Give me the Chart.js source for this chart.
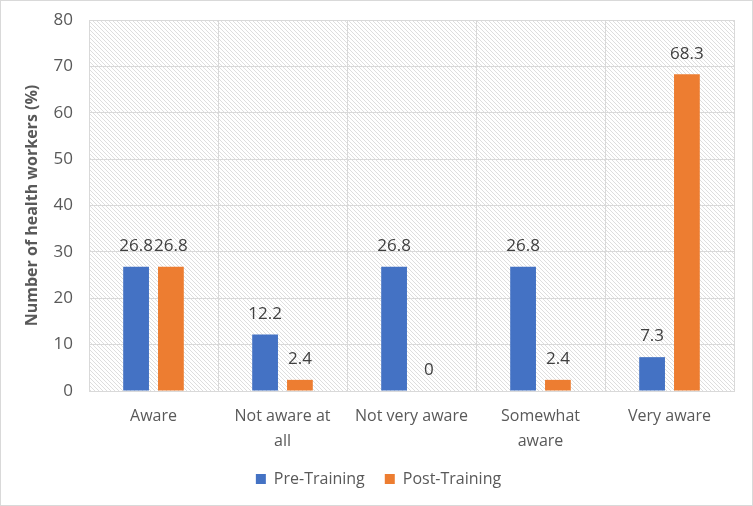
<!DOCTYPE html>
<html>
<head>
<meta charset="utf-8">
<script src="https://cdn.jsdelivr.net/npm/chart.js@4"></script>
<style>
  html, body { margin: 0; padding: 0; background: #fff; }
  #wrap { width: 753px; height: 506px; position: relative; box-sizing: border-box; border: 1px solid #d9d9d9; }
</style>
</head>
<body>
<div id="wrap"><canvas id="chart" width="751" height="504"></canvas></div>
<script>
  const categories = [["Aware"], ["Not aware at", "all"], ["Not very aware"], ["Somewhat", "aware"], ["Very aware"]];
  const preTraining = [26.8, 12.2, 26.8, 26.8, 7.3];
  const postTraining = [26.8, 2.4, 0, 2.4, 68.3];
  const yTicks = [0, 10, 20, 30, 40, 50, 60, 70, 80];

  const FONT = "'Open Sans', sans-serif";
  const TEXT = "#595959";

  // diagonal hatch behind the plot, like the excel pattern fill
  function makeHatch(ctx) {
    const c = document.createElement("canvas");
    c.width = 4; c.height = 4;
    const p = c.getContext("2d");
    p.fillStyle = "#fff";
    p.fillRect(0, 0, 4, 4);
    p.strokeStyle = "#dedede";
    p.lineWidth = 1;
    p.beginPath();
    p.moveTo(-1, -1); p.lineTo(5, 5);
    p.moveTo(-1, 3); p.lineTo(1, 5);
    p.moveTo(3, -1); p.lineTo(5, 1);
    p.stroke();
    return ctx.createPattern(c, "repeat");
  }

  const hatchPlugin = {
    id: "hatch",
    beforeDraw(chart) {
      const { ctx, chartArea: a } = chart;
      ctx.save();
      ctx.fillStyle = makeHatch(ctx);
      ctx.fillRect(a.left, a.top, a.right - a.left, a.bottom - a.top);
      ctx.restore();
    }
  };

  const valueLabels = {
    id: "valueLabels",
    afterDatasetsDraw(chart) {
      const { ctx } = chart;
      ctx.save();
      ctx.font = "17px " + FONT;
      ctx.fillStyle = "#404040";
      ctx.textAlign = "center";
      ctx.textBaseline = "bottom";
      chart.data.datasets.forEach((ds, i) => {
        chart.getDatasetMeta(i).data.forEach((bar, j) => {
          ctx.fillText(String(ds.data[j]), bar.x, bar.y - 12);
        });
      });
      ctx.restore();
    }
  };

  new Chart(document.getElementById("chart"), {
    type: "bar",
    data: {
      labels: categories,
      datasets: [
        { label: "Pre-Training", data: preTraining, backgroundColor: "#4472C4" },
        { label: "Post-Training", data: postTraining, backgroundColor: "#ED7D31" }
      ]
    },
    options: {
      responsive: false,
      animation: false,
      layout: { padding: { top: 19, right: 18, left: 22, bottom: 8 } },
      datasets: { bar: { categoryPercentage: 0.54, barPercentage: 0.74 } },
      scales: {
        x: {
          afterFit: s => { s.height = 60; },
          grid: { color: "#d9d9d9", offset: true, drawTicks: false },
          border: { color: "#d9d9d9" },
          ticks: { color: TEXT, font: { family: FONT, size: 16, lineHeight: 1.55 }, padding: 13, maxRotation: 0, autoSkip: false }
        },
        y: {
          min: 0, max: 80,
          afterBuildTicks: s => { s.ticks = yTicks.map(v => ({ value: v })); },
          afterFit: s => { s.width = 66; s.paddingTop = 0; s.paddingBottom = 0; },
          grid: { color: "#d9d9d9", drawTicks: false },
          border: { display: false },
          ticks: { color: TEXT, font: { family: FONT, size: 17 }, padding: 16 },
          title: { display: true, text: "Number of health workers (%)", color: TEXT, font: { family: FONT, size: 16, weight: "bold" }, padding: 0 }
        }
      },
      plugins: {
        legend: {
          position: "bottom",
          labels: { color: TEXT, font: { family: FONT, size: 16 }, boxWidth: 10, boxHeight: 10, padding: 20 }
        },
        tooltip: { enabled: false }
      }
    },
    plugins: [hatchPlugin, valueLabels]
  });
</script>
</body>
</html>
